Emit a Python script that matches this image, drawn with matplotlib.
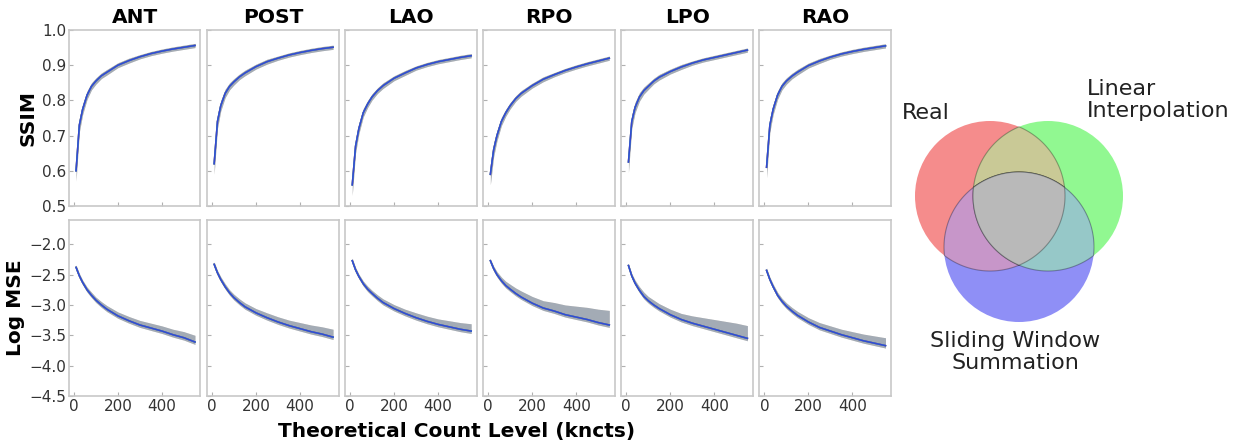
import numpy as np
import matplotlib
matplotlib.use("Agg")
import matplotlib.pyplot as plt
from matplotlib.patches import Circle, Polygon

# count levels (kcts) shared by every view
counts = [10, 25, 40, 60, 80, 100, 125, 150, 200, 250, 300, 350, 400, 450, 500, 550]
views = ["ANT", "POST", "LAO", "RPO", "LPO", "RAO"]

# SSIM, one row per view (the three methods sit on top of each other)
ssim_mean = [
    [0.60, 0.73, 0.775, 0.815, 0.84, 0.855, 0.87, 0.88, 0.90, 0.913, 0.924, 0.933, 0.940, 0.946, 0.951, 0.956],
    [0.62, 0.74, 0.785, 0.82, 0.84, 0.853, 0.867, 0.878, 0.896, 0.91, 0.92, 0.929, 0.936, 0.942, 0.947, 0.951],
    [0.56, 0.67, 0.72, 0.765, 0.79, 0.81, 0.828, 0.842, 0.863, 0.878, 0.892, 0.902, 0.91, 0.916, 0.922, 0.927],
    [0.59, 0.66, 0.70, 0.74, 0.765, 0.785, 0.805, 0.82, 0.842, 0.86, 0.873, 0.885, 0.895, 0.904, 0.912, 0.92],
    [0.625, 0.74, 0.78, 0.81, 0.828, 0.84, 0.855, 0.866, 0.882, 0.895, 0.906, 0.915, 0.922, 0.929, 0.936, 0.943],
    [0.61, 0.73, 0.775, 0.815, 0.84, 0.855, 0.869, 0.88, 0.899, 0.912, 0.923, 0.932, 0.939, 0.945, 0.95, 0.955],
]
ssim_band = [0.03, 0.02, 0.015, 0.012, 0.01, 0.009, 0.008, 0.008, 0.007, 0.007, 0.006, 0.006, 0.006, 0.006, 0.006, 0.006]

# log MSE, one row per view
mse_mean = [
    [-2.38, -2.52, -2.63, -2.75, -2.84, -2.92, -3.00, -3.07, -3.18, -3.26, -3.33, -3.38, -3.43, -3.49, -3.54, -3.61],
    [-2.33, -2.47, -2.58, -2.70, -2.80, -2.88, -2.96, -3.03, -3.13, -3.21, -3.28, -3.34, -3.39, -3.44, -3.48, -3.53],
    [-2.27, -2.42, -2.53, -2.65, -2.74, -2.81, -2.89, -2.96, -3.06, -3.14, -3.21, -3.27, -3.32, -3.36, -3.40, -3.43],
    [-2.27, -2.40, -2.50, -2.60, -2.68, -2.74, -2.81, -2.87, -2.97, -3.05, -3.10, -3.16, -3.20, -3.24, -3.29, -3.33],
    [-2.35, -2.52, -2.64, -2.76, -2.86, -2.93, -3.00, -3.06, -3.16, -3.24, -3.30, -3.35, -3.40, -3.45, -3.50, -3.55],
    [-2.43, -2.58, -2.70, -2.84, -2.94, -3.02, -3.10, -3.17, -3.28, -3.37, -3.43, -3.49, -3.54, -3.59, -3.63, -3.67],
]
# band spread above / below the mean line
mse_up = [
    [0.04, 0.04, 0.04, 0.045, 0.05, 0.05, 0.055, 0.06, 0.065, 0.07, 0.075, 0.08, 0.085, 0.09, 0.10, 0.11],
    [0.04, 0.04, 0.045, 0.05, 0.05, 0.055, 0.06, 0.065, 0.07, 0.08, 0.085, 0.09, 0.10, 0.11, 0.12, 0.13],
    [0.04, 0.04, 0.04, 0.045, 0.05, 0.05, 0.055, 0.06, 0.065, 0.07, 0.08, 0.085, 0.09, 0.10, 0.11, 0.12],
    [0.03, 0.04, 0.05, 0.06, 0.07, 0.08, 0.09, 0.10, 0.11, 0.12, 0.14, 0.16, 0.18, 0.20, 0.22, 0.24],
    [0.03, 0.04, 0.05, 0.06, 0.07, 0.07, 0.08, 0.08, 0.09, 0.10, 0.12, 0.14, 0.16, 0.18, 0.20, 0.21],
    [0.04, 0.04, 0.045, 0.05, 0.05, 0.055, 0.06, 0.065, 0.07, 0.08, 0.085, 0.09, 0.10, 0.11, 0.12, 0.13],
]
mse_down = [0.05, 0.045, 0.04, 0.04, 0.04, 0.04, 0.04, 0.04, 0.04, 0.04, 0.04, 0.04, 0.04, 0.04, 0.04, 0.04]

methods = ["Real", "Linear\nInterpolation", "Sliding Window\nSummation"]
method_colors = ["#ff0000", "#00ff00", "#0000ff"]
line_colors = ["#e8202a", "#20c8c8", "#3448d4"]

W, H = 1255, 445
fig = plt.figure(figsize=(W / 100, H / 100), dpi=100)

spine_col = "#c8c8c8"
tick_col = "#333333"
x = np.array(counts)


def panel(left_px, top_px, bottom_px):
    return fig.add_axes([left_px / W, 1 - bottom_px / H, 131.5 / W, (bottom_px - top_px) / H])


def style(ax):
    for s in ax.spines.values():
        s.set_color(spine_col)
        s.set_linewidth(1.2)
    ax.tick_params(direction="in", length=3, width=0.8, color="#b0b0b0",
                   labelcolor=tick_col, labelsize=11, pad=2)
    ax.set_xlim(-22, 575)
    ax.set_xticks([0, 200, 400])


for i, v in enumerate(views):
    left = 69 + i * 138.1
    # SSIM
    ax = panel(left, 30, 206)
    m = np.array(ssim_mean[i])
    b = np.array(ssim_band)
    for c in method_colors:
        ax.fill_between(x, m - b, m + b, color=c, alpha=0.2, lw=0)
    for c in line_colors:
        ax.plot(x, m, color=c, lw=1.1)
    style(ax)
    ax.set_ylim(0.5, 1.0)
    ax.set_yticks([0.5, 0.6, 0.7, 0.8, 0.9, 1.0])
    ax.set_xticklabels([])
    ax.set_title(v, fontsize=14.5, fontweight="bold", pad=5)
    if i == 0:
        ax.set_ylabel("SSIM", fontsize=14.5, fontweight="bold", labelpad=3)
    else:
        ax.set_yticklabels([])

    # log MSE
    ax2 = panel(left, 220, 396)
    m = np.array(mse_mean[i])
    up = np.array(mse_up[i])
    dn = np.array(mse_down)
    for c in method_colors:
        ax2.fill_between(x, m - dn, m + up, color=c, alpha=0.2, lw=0)
    for c in line_colors:
        ax2.plot(x, m, color=c, lw=1.1)
    style(ax2)
    ax2.set_ylim(-4.5, -1.6)
    ax2.set_yticks([-4.5, -4.0, -3.5, -3.0, -2.5, -2.0])
    if i == 0:
        ax2.set_yticklabels(["\u22124.5", "\u22124.0", "\u22123.5", "\u22123.0", "\u22122.5", "\u22122.0"])
        ax2.set_ylabel("Log MSE", fontsize=14.5, fontweight="bold", labelpad=3)
    else:
        ax2.set_yticklabels([])

fig.text(457 / W, 1 - 432 / H, "Theoretical Count Level (kncts)", ha="center", va="center",
         fontsize=14.5, fontweight="bold")

# venn-style legend, drawn in pixel coordinates of the figure
vax = fig.add_axes([880 / W, 1 - 400 / H, 375 / W, 340 / H])
vax.set_xlim(880, 1255)
vax.set_ylim(400, 60)
vax.axis("off")

centers = [(990, 196), (1048, 196), (1019, 247)]
radius = 75
region_cols = ["#f58c8c", "#91f891", "#8f8ff6"]
pair_cols = {(0, 1): "#c9c996", (0, 2): "#c796c9", (1, 2): "#96c8c8"}
center_col = "#b9b9b9"


def circle_pts(c, n=720):
    t = np.linspace(0, 2 * np.pi, n, endpoint=False)
    return np.column_stack([c[0] + radius * np.cos(t), c[1] + radius * np.sin(t)])


def inside(p, c):
    return (p[:, 0] - c[0]) ** 2 + (p[:, 1] - c[1]) ** 2 <= radius ** 2 + 1e-6


def intersection(idx):
    pts = []
    for k in idx:
        p = circle_pts(centers[k])
        ok = np.ones(len(p), bool)
        for j in idx:
            if j != k:
                ok &= inside(p, centers[j])
        pts.append(p[ok])
    pts = np.vstack(pts)
    cen = pts.mean(axis=0)
    ang = np.arctan2(pts[:, 1] - cen[1], pts[:, 0] - cen[0])
    return pts[np.argsort(ang)]


for c, col in zip(centers, region_cols):
    vax.add_patch(Circle(c, radius, facecolor=col, edgecolor="none"))
for (a, b2), col in pair_cols.items():
    vax.add_patch(Polygon(intersection([a, b2]), closed=True, facecolor=col,
                          edgecolor=(0, 0, 0, 0.3), lw=0.8))
vax.add_patch(Polygon(intersection([0, 1, 2]), closed=True, facecolor=center_col,
                      edgecolor=(0, 0, 0, 0.3), lw=0.8))

vax.text(902, 113, methods[0], ha="left", va="center", fontsize=16, color="#222222")
vax.text(1087, 100, methods[1], ha="left", va="center", fontsize=16, color="#222222",
         linespacing=1.15)
vax.text(1015, 352, methods[2], ha="center", va="center", fontsize=16, color="#222222",
         linespacing=1.15, multialignment="center")

fig.savefig("out.png", dpi=100)
